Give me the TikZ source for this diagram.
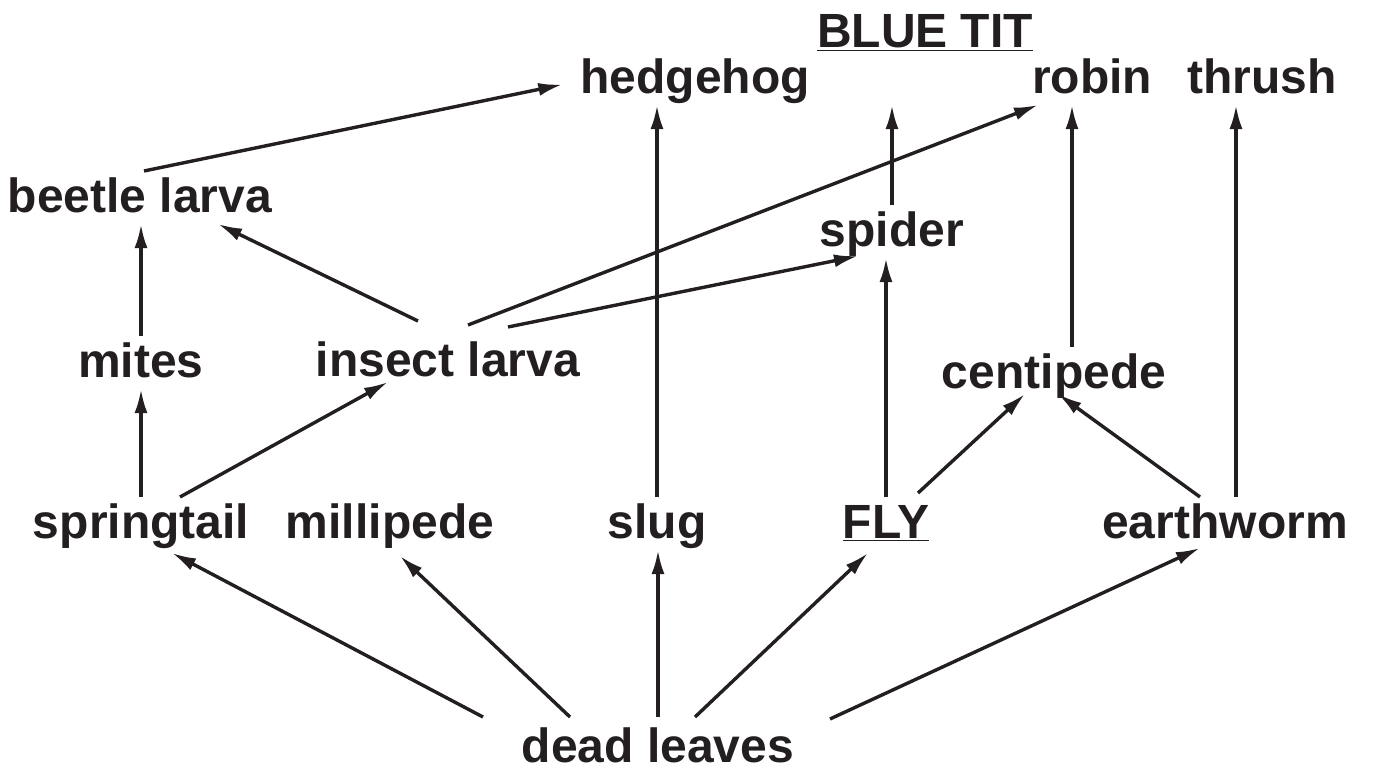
\documentclass[tikz,border=0pt]{standalone}
\usepackage{fontspec}
\setmainfont{Liberation Sans}
\usepackage{xcolor}
\usepackage{tikz}
\usetikzlibrary{arrows.meta,positioning,calc}
\definecolor{ink}{RGB}{35,31,32}

\begin{document}
\begin{tikzpicture}[
    x=0.5pt, y=-0.5pt,
    sp/.style={font=\fontsize{24}{27}\selectfont\bfseries, text=ink, inner sep=0pt,
               outer sep=3pt, text height=17.5pt, text depth=3pt, anchor=base},
    >={Latex[length=12pt,width=6.5pt]},
    link/.style={->, draw=ink, line width=1.7pt},
    ]
\useasboundingbox (0,0) rectangle (1373,771);

\node[sp] (bt) at (925,47) {\underline{BLUE TIT}};
\node[sp] (hh) at (695,93) {hedgehog};
\node[sp] (rb) at (1092,93) {robin};
\node[sp] (th) at (1262,93) {thrush};
\node[sp] (bl) at (140,212) {beetle larva};
\node[sp] (spd) at (892,246) {spider};
\node[sp] (mt) at (141,377) {mites};
\node[sp] (il) at (448,376) {insect larva};
\node[sp] (cp) at (1054,388) {centipede};
\node[sp] (st) at (141,538) {springtail};
\node[sp] (mp) at (390,538) {millipede};
\node[sp] (sl) at (657,538) {slug};
\node[sp] (fl) at (886,538) {\underline{FLY}};
\node[sp] (ew) at (1225,538) {earthworm};
\node[sp, text depth=0pt, outer sep=1pt] (dl) at (658,762) {dead leaves};
\coordinate (bt in) at (spd.north |- hh.south);

\draw[link] ([xshift=2pt]bl.north) -- ([xshift=-6pt,yshift=-3pt]hh.west);
\draw[link] (sl.north) -- (sl.north |- hh.south);
\draw[link] (spd.north) -- (bt in);
\draw[link] ([xshift=10pt,yshift=5pt]il.north) -- ([xshift=6pt]rb.south west);
\draw[link] ([xshift=30pt,yshift=4pt]il.north) -- ([xshift=-17pt,yshift=1pt]spd.south);
\draw[link] ([xshift=-15pt,yshift=7pt]il.north) -- ([xshift=39pt]bl.south);
\draw[link] (mt.north) -- (mt.north |- bl.south);
\draw[link] (st.north) -- (st.north |- mt.south);
\draw[link] ([xshift=19.5pt]st.north) -- ([xshift=-30pt,yshift=3pt]il.south);
\draw[link] (fl.north) -- (fl.north |- spd.south);
\draw[link] ([xshift=16pt,yshift=2pt]fl.north) -- ([xshift=-14.5pt,yshift=3pt]cp.south);
\draw[link] ([xshift=-12.5pt]ew.north) -- ([xshift=2pt,yshift=3pt]cp.south);
\draw[link] ([xshift=9pt]cp.north) -- ([xshift=9pt]cp.north |- rb.south);
\draw[link] ([xshift=5.5pt]ew.north) -- ([xshift=5.5pt]ew.north |- th.south);
\draw[link] ([xshift=-87.5pt,yshift=4pt]dl.north) -- ([xshift=15.5pt,yshift=-1.5pt]st.south);
\draw[link] ([xshift=-44pt,yshift=4pt]dl.north) -- ([xshift=5pt,yshift=-3pt]mp.south);
\draw[link] ([yshift=4pt]dl.north) -- (dl.north |- sl.south);
\draw[link] ([xshift=18.5pt,yshift=4pt]dl.north) -- ([xshift=-9pt,yshift=-1.5pt]fl.south);
\draw[link] ([xshift=86pt,yshift=3pt]dl.north) -- ([xshift=-12.5pt,yshift=1pt]ew.south);
\end{tikzpicture}
\end{document}
